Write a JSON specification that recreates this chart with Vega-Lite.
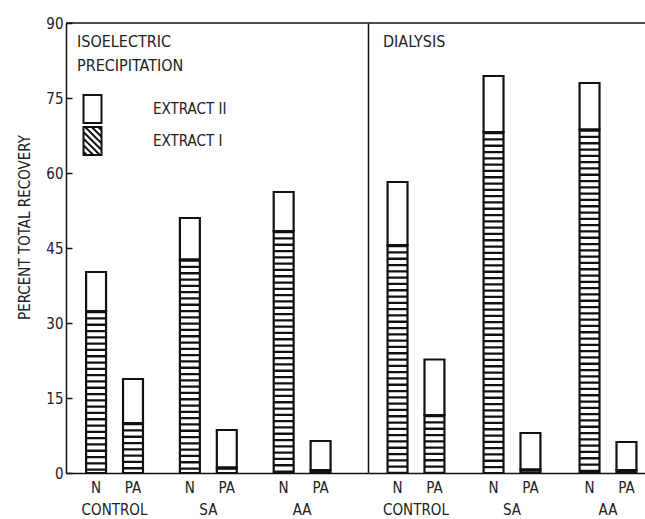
{
  "$schema": "https://vega.github.io/schema/vega-lite/v6.json",
  "padding": {"left": 17, "top": 16, "right": -11, "bottom": 0},
  "background": "white",
  "spacing": 0,
  "bounds": "flush",
  "config": {
    "font": "Liberation Sans Narrow, DejaVu Sans Condensed, sans-serif",
    "view": {"stroke": null},
    "axis": {"grid": false, "labelColor": "#222", "titleColor": "#222", "domainColor": "#111", "tickColor": "#111", "labelFontSize": 15, "titleFontSize": 15, "titleFontWeight": "normal", "domainWidth": 1.5},
    "text": {"color": "#222"}
  },
  "data": {"values": [
    {"method": "ISOELECTRIC PRECIPITATION", "group": "CONTROL", "sample": "N", "extract": "EXTRACT I", "percent": 32.4},
    {"method": "ISOELECTRIC PRECIPITATION", "group": "CONTROL", "sample": "N", "extract": "EXTRACT II", "percent": 7.8},
    {"method": "ISOELECTRIC PRECIPITATION", "group": "CONTROL", "sample": "PA", "extract": "EXTRACT I", "percent": 10.0},
    {"method": "ISOELECTRIC PRECIPITATION", "group": "CONTROL", "sample": "PA", "extract": "EXTRACT II", "percent": 8.8},
    {"method": "ISOELECTRIC PRECIPITATION", "group": "SA", "sample": "N", "extract": "EXTRACT I", "percent": 42.7},
    {"method": "ISOELECTRIC PRECIPITATION", "group": "SA", "sample": "N", "extract": "EXTRACT II", "percent": 8.3},
    {"method": "ISOELECTRIC PRECIPITATION", "group": "SA", "sample": "PA", "extract": "EXTRACT I", "percent": 1.1},
    {"method": "ISOELECTRIC PRECIPITATION", "group": "SA", "sample": "PA", "extract": "EXTRACT II", "percent": 7.5},
    {"method": "ISOELECTRIC PRECIPITATION", "group": "AA", "sample": "N", "extract": "EXTRACT I", "percent": 48.4},
    {"method": "ISOELECTRIC PRECIPITATION", "group": "AA", "sample": "N", "extract": "EXTRACT II", "percent": 7.8},
    {"method": "ISOELECTRIC PRECIPITATION", "group": "AA", "sample": "PA", "extract": "EXTRACT I", "percent": 0.6},
    {"method": "ISOELECTRIC PRECIPITATION", "group": "AA", "sample": "PA", "extract": "EXTRACT II", "percent": 5.8},
    {"method": "DIALYSIS", "group": "CONTROL", "sample": "N", "extract": "EXTRACT I", "percent": 45.6},
    {"method": "DIALYSIS", "group": "CONTROL", "sample": "N", "extract": "EXTRACT II", "percent": 12.6},
    {"method": "DIALYSIS", "group": "CONTROL", "sample": "PA", "extract": "EXTRACT I", "percent": 11.6},
    {"method": "DIALYSIS", "group": "CONTROL", "sample": "PA", "extract": "EXTRACT II", "percent": 11.1},
    {"method": "DIALYSIS", "group": "SA", "sample": "N", "extract": "EXTRACT I", "percent": 68.2},
    {"method": "DIALYSIS", "group": "SA", "sample": "N", "extract": "EXTRACT II", "percent": 11.2},
    {"method": "DIALYSIS", "group": "SA", "sample": "PA", "extract": "EXTRACT I", "percent": 0.7},
    {"method": "DIALYSIS", "group": "SA", "sample": "PA", "extract": "EXTRACT II", "percent": 7.3},
    {"method": "DIALYSIS", "group": "AA", "sample": "N", "extract": "EXTRACT I", "percent": 68.7},
    {"method": "DIALYSIS", "group": "AA", "sample": "N", "extract": "EXTRACT II", "percent": 9.3},
    {"method": "DIALYSIS", "group": "AA", "sample": "PA", "extract": "EXTRACT I", "percent": 0.6},
    {"method": "DIALYSIS", "group": "AA", "sample": "PA", "extract": "EXTRACT II", "percent": 5.6}
  ]},
  "hconcat": [
    {
      "width": 302,
      "height": 450,
      "transform": [{"filter": "datum.method === 'ISOELECTRIC PRECIPITATION'"}],
      "title": {"text": ["ISOELECTRIC", "PRECIPITATION"], "anchor": "start", "frame": "group", "baseline": "top", "offset": 0, "dx": 11, "dy": 58, "fontSize": 16, "fontWeight": "normal", "lineHeight": 24, "color": "#222"},
      "layer": [
        {
          "mark": {"type": "bar", "strokeWidth": 0},
          "encoding": {
            "x": {"field": "group", "type": "nominal", "sort": ["CONTROL", "SA", "AA"], "scale": {"domain": ["CONTROL", "SA", "AA"], "paddingInner": 0, "paddingOuter": 0.11, "align": 0.08}, "axis": {"title": null, "ticks": false, "labelAngle": 0, "labelPadding": 29}},
            "xOffset": {"field": "sample", "type": "nominal", "scale": {"domain": ["N", "PA"], "paddingInner": 0.46, "paddingOuter": 0.5}},
            "y": {"field": "percent", "type": "quantitative", "stack": "zero", "scale": {"domain": [0, 90], "nice": false}, "axis": {"title": "PERCENT TOTAL RECOVERY", "values": [0, 15, 30, 45, 60, 75, 90], "ticks": false, "labelPadding": 3, "grid": true, "gridColor": "#111", "gridWidth": 1.5, "gridDash": [6, 2000], "gridOpacity": 1, "titleX": -37, "titleY": 204, "titleBaseline": "alphabetic"}},
            "fill": {"field": "extract", "type": "nominal", "scale": {"domain": ["EXTRACT II", "EXTRACT I"], "range": ["white", "white"]},
              "legend": {"orient": "none", "legendX": 13.5, "legendY": 73, "title": null, "symbolType": "M-0.75,-1.167H0.75V1.167H-0.75Z", "symbolSize": 576, "symbolStrokeColor": "#111", "symbolStrokeWidth": 2, "labelOffset": 47.5, "rowPadding": -10, "labelFontSize": 15, "labelColor": "#222",
                "encode": {"symbols": {"update": {"stroke": {"value": "#111"}, "strokeWidth": {"value": 2}, "opacity": {"value": 1}, "fill": {"value": "white"}, "fillOpacity": {"value": 1}, "size": {"value": 576},
                  "shape": [{"test": "datum.value === 'EXTRACT I'", "value": "M-0.75,-1.167H0.75V1.167H-0.75Z M-0.75,0.9L-0.483,1.167 M-0.75,0.35L0.067,1.167 M-0.75,-0.2L0.617,1.167 M-0.75,-0.75L0.75,0.75 M-0.617,-1.167L0.75,0.2 M-0.067,-1.167L0.75,-0.35 M0.483,-1.167L0.75,-0.9"}, {"value": "M-0.75,-1.167H0.75V1.167H-0.75Z"}]}}}}},
            "order": {"field": "extract", "sort": "ascending"}
          }
        },
        {
          "transform": [{"filter": "datum.extract === 'EXTRACT I'"}],
          "mark": {"type": "rule", "strokeWidth": 19, "strokeDash": [2.3, 4], "color": "#111"},
          "encoding": {
            "x": {"field": "group", "type": "nominal", "sort": ["CONTROL", "SA", "AA"]},
            "xOffset": {"field": "sample", "type": "nominal"},
            "y": {"field": "percent", "type": "quantitative", "stack": null},
            "y2": {"datum": 0}
          }
        },
        {
          "mark": {"type": "bar", "fill": "transparent", "stroke": "#111", "strokeWidth": 2.2},
          "encoding": {
            "x": {"field": "group", "type": "nominal", "sort": ["CONTROL", "SA", "AA"]},
            "xOffset": {"field": "sample", "type": "nominal"},
            "y": {"field": "percent", "type": "quantitative", "stack": "zero"},
            "detail": {"field": "extract"},
            "order": {"field": "extract", "sort": "ascending"}
          }
        },
        {
          "transform": [{"filter": "datum.group === 'CONTROL' && datum.sample === 'N' && datum.extract === 'EXTRACT I'"}],
          "mark": {"type": "rule", "color": "#111", "strokeWidth": 1.5},
          "encoding": {"y": {"datum": 90}}
        },
        {
          "transform": [{"filter": "datum.extract === 'EXTRACT I'"}],
          "mark": {"type": "text", "dy": 15, "baseline": "middle", "fontSize": 15},
          "encoding": {
            "x": {"field": "group", "type": "nominal", "sort": ["CONTROL", "SA", "AA"]},
            "xOffset": {"field": "sample", "type": "nominal"},
            "y": {"datum": 0},
            "text": {"field": "sample"}
          }
        }
      ]
    },
    {
      "width": 288,
      "height": 450,
      "transform": [{"filter": "datum.method === 'DIALYSIS'"}],
      "title": {"text": "DIALYSIS", "anchor": "start", "frame": "group", "baseline": "top", "offset": 0, "dx": 15, "dy": 28, "fontSize": 16, "fontWeight": "normal", "color": "#222"},
      "layer": [
        {
          "mark": {"type": "bar", "strokeWidth": 0},
          "encoding": {
            "x": {"field": "group", "type": "nominal", "sort": ["CONTROL", "SA", "AA"], "scale": {"domain": ["CONTROL", "SA", "AA"], "paddingInner": 0, "paddingOuter": 0}, "axis": {"title": null, "ticks": false, "labelAngle": 0, "labelPadding": 29}},
            "xOffset": {"field": "sample", "type": "nominal", "scale": {"domain": ["N", "PA"], "paddingInner": 0.46, "paddingOuter": 0.53}},
            "y": {"field": "percent", "type": "quantitative", "stack": "zero", "scale": {"domain": [0, 90], "nice": false}, "axis": {"title": null, "labels": false, "ticks": false, "domain": true}},
            "fill": {"field": "extract", "type": "nominal", "scale": {"domain": ["EXTRACT II", "EXTRACT I"], "range": ["white", "white"]}, "legend": null},
            "order": {"field": "extract", "sort": "ascending"}
          }
        },
        {
          "transform": [{"filter": "datum.extract === 'EXTRACT I'"}],
          "mark": {"type": "rule", "strokeWidth": 19, "strokeDash": [2.3, 4], "color": "#111"},
          "encoding": {
            "x": {"field": "group", "type": "nominal", "sort": ["CONTROL", "SA", "AA"]},
            "xOffset": {"field": "sample", "type": "nominal"},
            "y": {"field": "percent", "type": "quantitative", "stack": null},
            "y2": {"datum": 0}
          }
        },
        {
          "mark": {"type": "bar", "fill": "transparent", "stroke": "#111", "strokeWidth": 2.2},
          "encoding": {
            "x": {"field": "group", "type": "nominal", "sort": ["CONTROL", "SA", "AA"]},
            "xOffset": {"field": "sample", "type": "nominal"},
            "y": {"field": "percent", "type": "quantitative", "stack": "zero"},
            "detail": {"field": "extract"},
            "order": {"field": "extract", "sort": "ascending"}
          }
        },
        {
          "transform": [{"filter": "datum.group === 'CONTROL' && datum.sample === 'N' && datum.extract === 'EXTRACT I'"}],
          "mark": {"type": "rule", "color": "#111", "strokeWidth": 1.5},
          "encoding": {"y": {"datum": 90}}
        },
        {
          "transform": [{"filter": "datum.extract === 'EXTRACT I'"}],
          "mark": {"type": "text", "dy": 15, "baseline": "middle", "fontSize": 15},
          "encoding": {
            "x": {"field": "group", "type": "nominal", "sort": ["CONTROL", "SA", "AA"]},
            "xOffset": {"field": "sample", "type": "nominal"},
            "y": {"datum": 0},
            "text": {"field": "sample"}
          }
        }
      ]
    }
  ],
  "resolve": {"scale": {"x": "independent", "xOffset": "independent", "y": "independent", "fill": "independent"}, "legend": {"fill": "independent"}}
}
